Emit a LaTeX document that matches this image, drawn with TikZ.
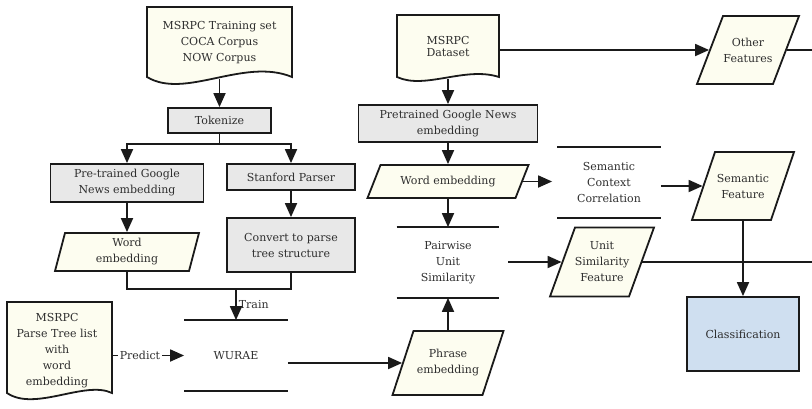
\documentclass[tikz,border=0pt]{standalone}
\usepackage{fontspec}
\setmainfont{DejaVu Serif}
\usetikzlibrary{arrows.meta,calc}
\definecolor{lnc}{HTML}{1A1A1A}
\definecolor{cream}{HTML}{FDFDF0}
\definecolor{boxgray}{HTML}{E8E8E8}
\definecolor{clsblue}{HTML}{CFDFF0}
\definecolor{txtc}{HTML}{2E2E2E}
\newcommand\mkpara[7]{%
  \draw[pshape] ({#2-#4/2-#6},{#3+#5/2}) -- ({#2-#4/2+#6},{#3-#5/2}) -- ({#2+#4/2+#6},{#3-#5/2}) -- ({#2+#4/2-#6},{#3+#5/2}) -- cycle;
  \node[minimum width=#4, minimum height=#5] (#1) at (#2,#3) {#7};}
\begin{document}
\begin{tikzpicture}[x=1pt,y=-1pt, line width=1.8pt,
  every node/.style={font=\fontsize{11}{16}\selectfont, text=txtc, align=center, inner sep=0pt},
  graybox/.style={draw=lnc, fill=boxgray, rectangle},
  bluebox/.style={draw=lnc, fill=clsblue, rectangle},
  pshape/.style={draw=lnc, fill=cream, line join=miter},
  dshape/.style={draw=lnc, fill=cream},
  plain/.style={draw=lnc},
  arr/.style={draw=lnc, -{Triangle[length=14pt,width=12pt]}}]
\useasboundingbox (0,0) rectangle (812,408);

% documents
\draw[dshape] (147,7) -- (292,7) -- (292,77) .. controls (244,57) and (185,100) .. (147,77) -- cycle;
\node[minimum width=145, minimum height=71] (doc1) at (219.5,42.5) {MSRPC Training set\\COCA Corpus\\NOW Corpus};

\draw[dshape] (397,15) -- (499,15) -- (499,77) .. controls (465,66) and (425,90) .. (397,77) -- cycle;
\node[minimum width=102, minimum height=63, font=\fontsize{11}{12}\selectfont] (doc2) at (448,46.5) {MSRPC\\Dataset};

\draw[dshape] (7,302) -- (112,302) -- (112,393) .. controls (85,380) and (35,412) .. (7,393) -- cycle;
\node[minimum width=110, minimum height=96] (doc3) at (57,351) {MSRPC\\Parse Tree list\\with\\word\\embedding};

% boxes
\node[graybox, minimum width=103, minimum height=25] (tok) at (219.5,120.5) {Tokenize};
\node[graybox, minimum width=153, minimum height=38] (pre1) at (127,183) {Pre-trained Google\\News embedding};
\node[graybox, minimum width=128, minimum height=26] (stan) at (291,177) {Stanford Parser};
\node[graybox, minimum width=128, minimum height=54] (conv) at (291,245) {Convert to parse\\tree structure};
\node[graybox, minimum width=179, minimum height=37] (pre2) at (448,123.5) {Pretrained Google News\\embedding};
\node[bluebox, minimum width=112, minimum height=74] (cls) at (743,334) {Classification};

% parallelograms
\mkpara{we1}{127}{252}{134}{38}{5}{Word\\embedding}
\mkpara{we2}{448}{181.5}{148}{33}{6.5}{Word embedding}
\mkpara{of}{748}{50}{76}{68}{13}{Other\\Features}
\mkpara{sf}{743}{186}{79}{68}{11.5}{Semantic\\Feature}
\mkpara{usf}{602}{262}{79}{69}{12.5}{Unit\\Similarity\\Feature}
\mkpara{pe}{448}{363}{90}{64}{10.5}{Phrase\\embedding}

% processes (top and bottom lines)
\node[minimum width=102, minimum height=69] (wurae) at (236,355.5) {WURAE};
\node[minimum width=101, minimum height=69] (pair) at (448,262.5) {Pairwise\\Unit\\Similarity};
\node[minimum width=102, minimum height=69] (scc) at (609,182.5) {Semantic\\Context\\Correlation};
\foreach \n in {wurae,pair,scc}{
  \draw[plain] (\n.north west) -- (\n.north east) (\n.south west) -- (\n.south east);
}

% free ends
\coordinate (edge1) at (812,50);
\coordinate (edge2) at (812,262);
\coordinate (mrg) at (236,289);

% connectors
\draw[arr] (doc1) -- (tok);
\draw[arr] (tok.south) -- ++(0,10) -| (pre1.north);
\draw[arr] (tok.south) -- ++(0,10) -| (stan.north);
\draw[arr] (pre1) -- (we1);
\draw[arr] (stan) -- (conv);
\draw[plain] (we1.south) |- (mrg) -| (conv.south);
\draw[arr] (mrg) -- (wurae.north) node[pos=0.5, right=2pt] {Train};
\draw[arr] (wurae.west -| doc3.east) -- (wurae.west) node[pos=0.38, fill=white, inner xsep=2pt, inner ysep=1pt] {Predict};
\draw[arr] (pe.west -| wurae.east) -- (pe.west);
\draw[arr] (pe) -- (pair);
\draw[arr] (doc2) -- (pre2);
\draw[arr] (pre2) -- (we2);
\draw[arr] (we2) -- (pair);
\draw[arr, shorten >=5pt] (we2.east) -- (we2.east -| scc.west);
\draw[arr] (sf.west -| scc.east) -- (sf.west);
\draw[arr, shorten <=9pt] (usf.west -| pair.east) -- (usf.west);
\draw[arr] (of.west -| doc2.east) -- (of.west);
\draw[plain] (of.east) -- (of.east -| edge1);
\draw[plain] (usf.east) -- (usf.east -| edge2);
\draw[arr] (sf) -- (cls);
\end{tikzpicture}
\end{document}
